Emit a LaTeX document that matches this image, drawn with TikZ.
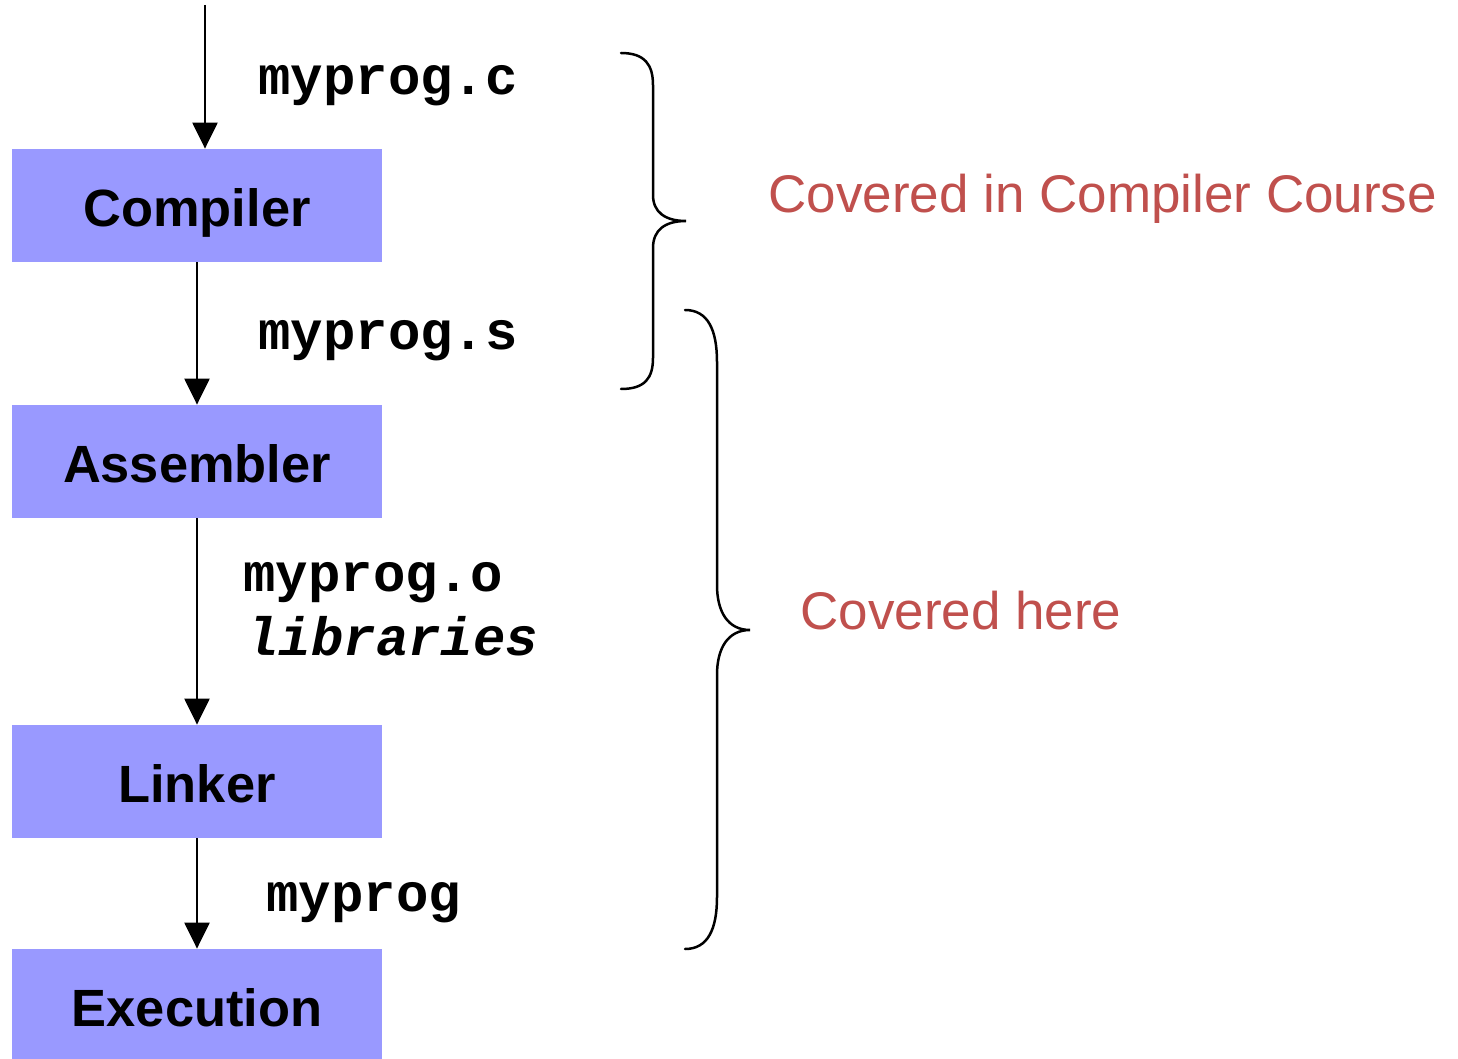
\documentclass[tikz,border=0pt]{standalone}
\usepackage{fontspec}
\setmainfont{Liberation Sans}
\newfontfamily\cour{Liberation Mono}
\usetikzlibrary{arrows.meta}
\definecolor{boxblue}{HTML}{9999FF}
\definecolor{notered}{HTML}{C0504D}
\begin{document}
\begin{tikzpicture}[x=0.5pt,y=-0.5pt,
  stage/.style={fill=boxblue, minimum width=185pt, minimum height=56.5pt, inner sep=0pt,
    font=\fontsize{26.2pt}{30pt}\selectfont\bfseries, text height=21pt, text depth=0pt},
  file/.style={anchor=base west, inner sep=0pt, font=\cour\fontsize{27pt}{30pt}\selectfont\bfseries},
  note/.style={anchor=base west, inner sep=0pt, text=notered, font=\fontsize{26.5pt}{30pt}\selectfont},
  flow/.style={line width=1.2pt, -{Triangle[width=12.5pt,length=13pt]}},
  brace/.style={line width=1.25pt, line cap=round}]
\useasboundingbox (0,0) rectangle (1458,1059);
\node[stage] (comp) at (197,205.5) {Compiler};
\node[stage] (asm) at (197,461.5) {Assembler};
\node[stage] (link) at (197,781.5) {Linker};
\node[stage] (exec) at (197,1005.5) {Execution};
\coordinate (src) at (205,5);
\draw[flow] (src) -- (src |- comp.north);
\draw[flow] (comp) -- (asm);
\draw[flow] (asm) -- (link);
\draw[flow] (link) -- (exec);
\node[file] (fc) at (258,95) {myprog.c};
\node[file] (fs) at (258,350) {myprog.s};
\node[file] (fo) at (243,591) {myprog.o};
\node[file] (fl) at (246,655) {\itshape libraries};
\node[file] (fx) at (266,911) {myprog};
\draw[brace] (621,53) .. controls (645,53) and (653,65) .. (653,85) -- (653,195)
  .. controls (653,212) and (665,221) .. (686,221)
  .. controls (665,221) and (653,230) .. (653,248) -- (653,358)
  .. controls (653,378) and (645,389) .. (621,389);
\draw[brace] (685,310) .. controls (708,310) and (717,330) .. (717,362) -- (717,585)
  .. controls (717,612) and (728,630) .. (750,630)
  .. controls (728,630) and (717,648) .. (717,675) -- (717,897)
  .. controls (717,929) and (708,949) .. (685,949);
\node[note] (n1) at (768,213) {Covered in Compiler Course};
\node[note] (n2) at (800,629) {Covered here};
\end{tikzpicture}
\end{document}
